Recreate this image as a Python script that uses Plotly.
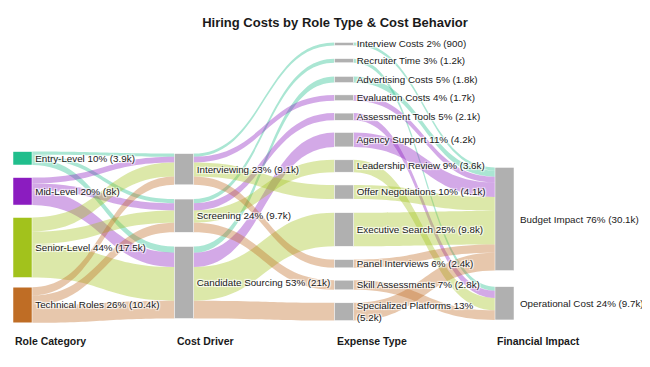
import plotly.graph_objects as go

# ---------------- data ----------------
roles = ["Entry-Level", "Mid-Level", "Senior-Level", "Technical Roles"]
drivers = ["Interviewing", "Screening", "Candidate Sourcing"]
expenses = ["Interview Costs", "Recruiter Time", "Advertising Costs", "Evaluation Costs",
            "Assessment Tools", "Agency Support", "Leadership Review", "Offer Negotiations",
            "Executive Search", "Panel Interviews", "Skill Assessments", "Specialized Platforms"]
impacts = ["Budget Impact", "Operational Cost"]

# each expense type: role, cost driver, financial impact, cost ($)
expense_role = ["Entry-Level", "Entry-Level", "Entry-Level", "Mid-Level",
                "Mid-Level", "Mid-Level", "Senior-Level", "Senior-Level",
                "Senior-Level", "Technical Roles", "Technical Roles", "Technical Roles"]
expense_driver = ["Interviewing", "Screening", "Candidate Sourcing", "Interviewing",
                  "Screening", "Candidate Sourcing", "Screening", "Interviewing",
                  "Candidate Sourcing", "Interviewing", "Screening", "Candidate Sourcing"]
expense_impact = ["Budget Impact", "Operational Cost", "Budget Impact", "Budget Impact",
                  "Operational Cost", "Budget Impact", "Operational Cost", "Budget Impact",
                  "Budget Impact", "Budget Impact", "Operational Cost", "Budget Impact"]
expense_cost = [900, 1200, 1800, 1700, 2100, 4200, 3600, 4100, 9800, 2400, 2800, 5200]

column_titles = ["Role Category", "Cost Driver", "Expense Type", "Financial Impact"]
title_text = "Hiring Costs by Role Type & Cost Behavior"

role_colors = {"Entry-Level": (32, 190, 140), "Mid-Level": (139, 28, 192),
               "Senior-Level": (162, 194, 28), "Technical Roles": (191, 109, 37)}

# ---------------- pixel geometry (window pixels) ----------------
OFF = 8  # page body margin
W, H = 642, 359
col_x = [22.5, 184, 344, 504.5]
thick = 19
label_size = 9.8
node_y_px = {
    "Entry-Level": 158.3, "Mid-Level": 191.3, "Senior-Level": 247.5, "Technical Roles": 305,
    "Interviewing": 169.2, "Screening": 215.7, "Candidate Sourcing": 282.5,
    "Interview Costs": 44, "Recruiter Time": 60.7, "Advertising Costs": 79.5,
    "Evaluation Costs": 97.8, "Assessment Tools": 116.7, "Agency Support": 139.7,
    "Leadership Review": 166, "Offer Negotiations": 192, "Executive Search": 229.5,
    "Panel Interviews": 263.7, "Skill Assessments": 285, "Specialized Platforms": 311.7,
    "Budget Impact": 219, "Operational Cost": 303.3,
}


def px_x(p):
    return (p - OFF) / W


def px_y(p):
    return (p - OFF) / H


total = sum(expense_cost)


def fmt(v):
    if v < 1000:
        return str(v)
    s = f"{v/1000:.1f}"
    if s.endswith(".0"):
        s = s[:-2]
    return s + "k"


def node_total(name):
    if name in expenses:
        return expense_cost[expenses.index(name)]
    t = 0
    for r, d, i, c in zip(expense_role, expense_driver, expense_impact, expense_cost):
        if name in (r, d, i):
            t += c
    return t


def make_label(n):
    v = node_total(n)
    pct = int(v / total * 100 + 0.5)
    lab = f"{n} {pct}% ({fmt(v)})"
    if len(lab) > 30:
        lab = f"{n} {pct}%<br>({fmt(v)})"
    return lab


columns = [roles, drivers, expenses, impacts]
names, xs, ys, labels, ncolors = [], [], [], [], []
annotations = []
for ci, col in enumerate(columns):
    for n in col:
        names.append(n)
        xs.append(px_x(col_x[ci]))
        ys.append(px_y(node_y_px[n]))
        if ci == len(columns) - 1:
            labels.append("")
            annotations.append(dict(text=make_label(n), x=px_x(col_x[ci] + thick / 2 + 4),
                                    y=1 - px_y(node_y_px[n]), xref="paper", yref="paper",
                                    xanchor="left", yanchor="middle", showarrow=False,
                                    font=dict(family="Arial", size=label_size, color="#1a1a1a")))
        else:
            labels.append(make_label(n))
        if ci == 0:
            r, g, b = role_colors[n]
            ncolors.append(f"rgb({r},{g},{b})")
        else:
            ncolors.append("#b0b0b0")

idx = {n: i for i, n in enumerate(names)}
src, tgt, val, lcol = [], [], [], []


def add(s, t, v, role):
    src.append(idx[s]); tgt.append(idx[t]); val.append(v)
    r, g, b = role_colors[role]
    lcol.append(f"rgba({r},{g},{b},0.38)")


for r, d, c in zip(expense_role, expense_driver, expense_cost):
    add(r, d, c, r)
for e, r, d, c in zip(expenses, expense_role, expense_driver, expense_cost):
    add(d, e, c, r)
for e, r, i, c in zip(expenses, expense_role, expense_impact, expense_cost):
    add(e, i, c, r)

ky = 3.43  # px per $1k
pad = (H - ky * total / 1000) / (len(expenses) - 1)

fig = go.Figure(go.Sankey(
    arrangement="freeform",
    domain=dict(x=[0, 1], y=[0, 1]),
    node=dict(label=labels, x=xs, y=ys, color=ncolors, pad=pad, thickness=thick,
              line=dict(color="white", width=0.5)),
    link=dict(source=src, target=tgt, value=val, color=lcol),
    textfont=dict(family="Arial", size=label_size, color="#1a1a1a"),
))

for ci, t in enumerate(column_titles):
    annotations.append(dict(text=f"<b>{t}</b>", x=px_x(col_x[ci] - 9.5), y=1 - px_y(341),
                            xref="paper", yref="paper", xanchor="left", yanchor="middle",
                            showarrow=False, font=dict(family="Arial", size=10.5, color="#1a1a1a")))

fig.update_layout(
    width=W, height=H,
    margin=dict(l=0, r=0, t=0, b=0),
    paper_bgcolor="white",
    title=dict(text=f"<b>{title_text}</b>", x=px_x(335), xanchor="center", y=1 - px_y(22),
               yanchor="middle", font=dict(family="Arial", size=13, color="#1a1a1a")),
    annotations=annotations,
)
fig.write_html("out.html")
